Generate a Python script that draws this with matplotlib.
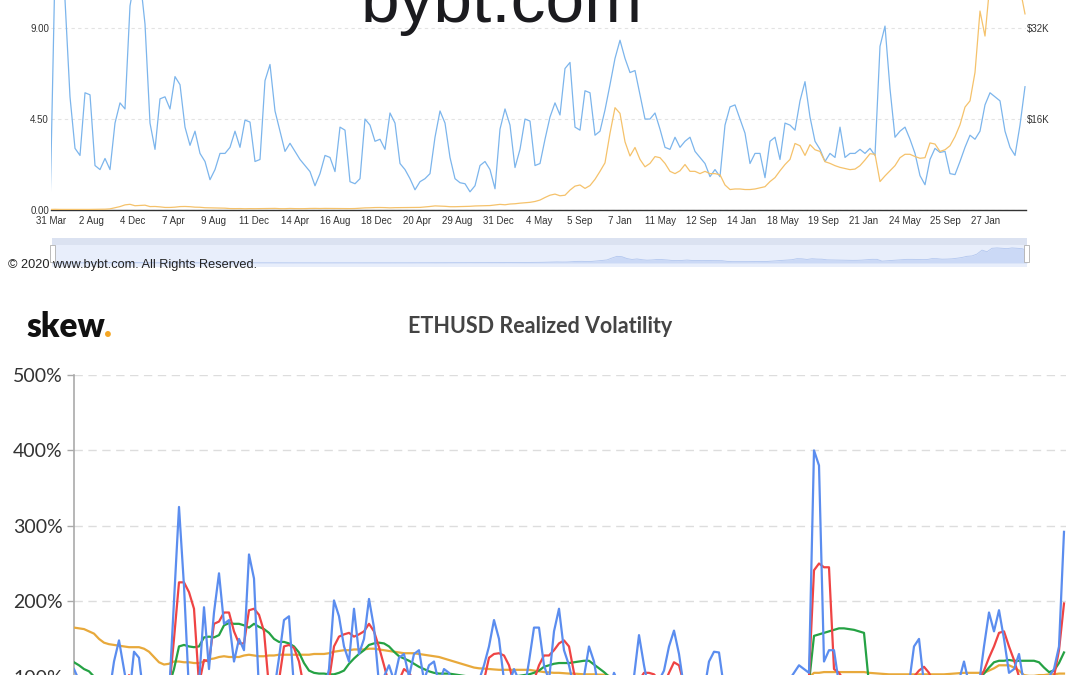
import numpy as np
import matplotlib
matplotlib.use("Agg")
import matplotlib.pyplot as plt
from matplotlib.patches import Rectangle
import matplotlib.ticker as mticker

# ------------------------------------------------------------------
# DATA : top chart (bybt.com) - ratio (blue, left axis) and BTC price ($K, right axis)
# ------------------------------------------------------------------
top_tick_labels = ['31 Mar', '2 Aug', '4 Dec', '7 Apr', '9 Aug', '11 Dec', '14 Apr', '16 Aug',
                   '18 Dec', '20 Apr', '29 Aug', '31 Dec', '4 May', '5 Sep', '7 Jan', '11 May',
                   '12 Sep', '14 Jan', '18 May', '19 Sep', '21 Jan', '24 May', '25 Sep', '27 Jan']
left_ticks = [0.0, 4.5, 9.0]
right_ticks_k = [16, 32]

ratio = [
    0.0, 12.0, 13.5, 10.4, 5.6, 3.05, 2.7, 5.8, 5.7, 2.2,
    2.0, 2.55, 2.0, 4.3, 5.3, 5.0, 10.1, 11.5, 11.5, 9.2,
    4.3, 3.0, 5.5, 5.6, 5.0, 6.6, 6.2, 4.1, 3.2, 3.9,
    2.8, 2.4, 1.5, 2.0, 2.8, 2.8, 3.1, 3.9, 3.1, 4.45,
    4.35, 2.4, 2.5, 6.4, 7.2, 4.9, 3.9, 2.9, 3.3, 2.9,
    2.5, 2.2, 1.9, 1.2, 1.8, 2.7, 2.6, 1.9, 4.1, 3.95,
    1.4, 1.3, 1.55, 4.5, 4.2, 3.4, 3.5, 3.0, 4.8, 4.3,
    2.3, 2.0, 1.55, 1.0, 1.4, 1.55, 1.8, 3.6, 4.9, 4.3,
    2.6, 1.55, 1.35, 1.3, 0.9, 1.2, 2.2, 2.4, 2.0, 1.05,
    4.0, 5.0, 4.2, 2.1, 3.0, 4.5, 4.4, 2.2, 2.3, 3.5,
    4.6, 5.3, 4.7, 7.0, 7.3, 4.1, 3.95, 5.9, 5.8, 3.7,
    3.9, 4.95, 6.2, 7.5, 8.4, 7.5, 6.8, 6.9, 5.7, 4.5,
    4.5, 4.8, 4.0, 3.1, 3.0, 3.6, 3.1, 3.4, 3.6, 2.9,
    2.6, 2.3, 1.65, 2.0, 1.65, 4.2, 5.1, 5.2, 4.5, 3.8,
    2.3, 2.8, 2.8, 1.6, 3.4, 3.6, 2.5, 4.3, 4.2, 3.95,
    5.4, 6.35, 4.6, 3.4, 3.0, 2.4, 2.8, 2.6, 4.1, 2.6,
    2.8, 2.8, 3.0, 2.8, 3.05, 2.7, 8.1, 9.1, 6.0, 3.6,
    3.9, 4.1, 3.5, 2.8, 1.7, 1.25, 2.5, 3.05, 2.85, 2.9,
    1.8, 1.75, 2.4, 3.1, 3.7, 3.5, 3.9, 5.2, 5.8, 5.6,
    5.4, 3.9, 3.1, 2.7, 4.2, 6.1,
]

btc_price_k = [
    0.09, 0.12, 0.10, 0.10, 0.10, 0.10, 0.10, 0.11, 0.10, 0.12,
    0.13, 0.14, 0.20, 0.40, 0.60, 0.90, 1.00, 0.75, 0.80, 0.85,
    0.60, 0.62, 0.55, 0.45, 0.45, 0.50, 0.60, 0.62, 0.58, 0.50,
    0.48, 0.40, 0.38, 0.37, 0.33, 0.32, 0.25, 0.24, 0.25, 0.22,
    0.24, 0.23, 0.24, 0.26, 0.25, 0.28, 0.23, 0.23, 0.27, 0.24,
    0.23, 0.24, 0.27, 0.28, 0.26, 0.28, 0.27, 0.26, 0.24, 0.23,
    0.24, 0.26, 0.32, 0.37, 0.39, 0.43, 0.44, 0.42, 0.38, 0.41,
    0.42, 0.42, 0.44, 0.45, 0.46, 0.54, 0.62, 0.72, 0.68, 0.65,
    0.58, 0.58, 0.60, 0.61, 0.65, 0.71, 0.73, 0.75, 0.78, 0.89,
    0.99, 0.92, 1.05, 1.10, 1.20, 1.27, 1.35, 1.50, 1.75, 2.20,
    2.60, 2.80, 2.50, 2.60, 3.50, 4.20, 4.40, 3.80, 4.30, 5.40,
    6.80, 8.30, 13.5, 18.0, 17.0, 12.0, 9.5, 11.0, 8.9, 7.6,
    8.2, 9.4, 9.2, 8.2, 6.8, 6.4, 6.9, 8.0, 6.8, 6.8,
    6.4, 6.8, 6.4, 6.4, 6.2, 4.4, 3.6, 3.7, 3.7, 3.6,
    3.6, 3.7, 3.9, 4.1, 5.0, 5.7, 6.9, 8.0, 8.9, 11.7,
    11.3, 9.6, 11.5, 10.6, 10.3, 8.5, 8.2, 7.8, 7.5, 7.3,
    7.1, 7.2, 7.8, 8.8, 9.9, 9.8, 5.0, 6.0, 6.9, 7.8,
    9.2, 9.8, 9.8, 9.4, 9.1, 9.2, 11.8, 11.6, 10.3, 10.6,
    11.3, 12.9, 15.0, 18.1, 19.2, 24.2, 35.0, 30.6, 40.0, 41.0,
    40.0, 39.0, 41.0, 40.0, 39.0, 34.5,
]

# ------------------------------------------------------------------
# DATA : bottom chart (skew) - ETHUSD realized volatility (%)
# ------------------------------------------------------------------
vol_ticks = [100, 200, 300, 400, 500]

vol_blue = [
    110, 95, 80, 70, 65, 60, 62, 75, 120, 148,
    110, 70, 133, 125, 70, 60, 55, 55, 60, 75,
    200, 325, 220, 80, 85, 90, 192, 110, 185, 237,
    170, 175, 120, 150, 135, 262, 230, 80, 70, 70,
    80, 125, 175, 180, 85, 70, 65, 60, 65, 70,
    80, 110, 201, 180, 140, 120, 190, 130, 150, 203,
    165, 90, 100, 115, 95, 125, 130, 100, 130, 135,
    95, 115, 120, 90, 110, 105, 80, 85, 80, 85,
    80, 95, 115, 140, 175, 150, 95, 90, 110, 95,
    80, 120, 165, 165, 115, 95, 160, 190, 135, 115,
    85, 85, 100, 140, 120, 80, 75, 80, 105, 90,
    80, 75, 100, 155, 115, 80, 75, 95, 108, 140,
    161, 130, 85, 75, 70, 70, 80, 120, 133, 132,
    85, 75, 70, 68, 65, 70, 75, 80, 75, 70,
    75, 85, 90, 95, 105, 115, 110, 105, 400, 380,
    120, 135, 135, 90, 85, 75, 70, 65, 65, 70,
    75, 80, 70, 75, 80, 85, 80, 90, 140, 150,
    90, 85, 80, 75, 80, 85, 90, 95, 120, 90,
    85, 90, 140, 185, 160, 188, 150, 105, 110, 130,
    90, 85, 90, 95, 90, 100, 110, 140, 292,
]

vol_red = [
    75, 72, 70, 68, 66, 65, 64, 66, 70, 75,
    80, 102, 85, 80, 75, 72, 70, 70, 72, 80,
    150, 225, 225, 212, 190, 90, 122, 120, 170, 173,
    185, 185, 160, 144, 144, 188, 190, 182, 160, 85,
    80, 95, 140, 142, 138, 120, 85, 80, 78, 80,
    85, 95, 140, 153, 156, 158, 153, 156, 160, 170,
    160, 139, 115, 90, 85, 95, 110, 105, 95, 90,
    85, 80, 78, 76, 75, 74, 74, 75, 76, 78,
    80, 85, 95, 125, 130, 131, 128, 115, 90, 85,
    80, 85, 95, 115, 128, 128, 135, 144, 148, 140,
    105, 85, 80, 78, 76, 75, 74, 75, 78, 80,
    82, 85, 90, 95, 105, 105, 103, 95, 90, 105,
    119, 115, 90, 85, 80, 78, 76, 75, 78, 80,
    78, 76, 75, 74, 74, 75, 76, 78, 80, 82,
    84, 86, 88, 90, 92, 95, 98, 100, 241, 250,
    245, 245, 110, 105, 95, 88, 85, 82, 80, 80,
    82, 84, 86, 88, 90, 92, 94, 96, 100, 108,
    113, 105, 90, 88, 86, 85, 86, 88, 90, 92,
    94, 96, 108, 125, 140, 158, 160, 140, 122, 100,
    90, 85, 82, 80, 82, 90, 100, 135, 197,
]

vol_green = [
    119, 115, 110, 107, 100, 95, 92, 90, 88, 87,
    86, 85, 85, 84, 84, 83, 83, 84, 85, 88,
    110, 140, 142, 140, 139, 140, 152, 153, 152, 155,
    168, 171, 170, 170, 168, 165, 170, 166, 163, 158,
    150, 146, 146, 144, 140, 132, 118, 108, 105, 104,
    104, 103, 103, 105, 108, 117, 124, 130, 135, 142,
    144, 145, 144, 140, 133, 127, 124, 121, 117, 113,
    110, 107, 105, 104, 104, 104, 103, 102, 101, 100,
    99, 98, 97, 96, 96, 97, 98, 99, 100, 101,
    102, 103, 105, 108, 113, 115, 117, 118, 118, 118,
    119, 120, 121, 121, 116, 111, 106, 100, 96, 94,
    92, 91, 90, 89, 88, 87, 87, 86, 86, 85,
    85, 85, 86, 86, 87, 87, 88, 88, 89, 89,
    89, 90, 90, 90, 91, 91, 91, 92, 92, 92,
    92, 92, 92, 92, 92, 92, 92, 92, 154, 156,
    158, 160, 162, 164, 164, 163, 162, 160, 158, 90,
    90, 89, 89, 89, 88, 88, 88, 88, 88, 88,
    88, 88, 88, 89, 89, 90, 90, 91, 92, 93,
    95, 98, 104, 112, 119, 121, 121, 122, 121, 121,
    121, 121, 121, 119, 112, 106, 108, 118, 132,
]

vol_orange = [
    165, 164, 163, 160, 157, 150, 145, 143, 142, 141,
    140, 139, 139, 139, 137, 133, 126, 119, 116, 117,
    120, 120, 119, 119, 118, 118, 120, 123, 124, 126,
    127, 126, 126, 126, 128, 129, 128, 127, 127, 128,
    128, 129, 129, 129, 129, 129, 129, 129, 130, 130,
    130, 131, 133, 134, 135, 135, 136, 136, 136, 137,
    137, 136, 135, 134, 133, 132, 131, 131, 131, 130,
    129, 128, 127, 126, 124, 122, 120, 118, 116, 114,
    112, 111, 110.6, 110, 109.5, 109, 109, 109, 109, 109,
    109, 109, 108, 107, 106, 105.5, 105, 105, 104.5, 104,
    104, 103.5, 103, 103, 103, 102.6, 102.5, 101, 99, 98,
    97, 97, 96, 96, 96, 95, 95, 95, 95, 95,
    95, 94, 95, 95, 94, 94, 95, 95, 96, 96,
    96, 96, 96, 96, 97, 97, 97, 97, 97, 97,
    97, 97, 98, 98, 98, 98, 98, 99, 105, 105,
    106, 106, 106, 106, 106, 106, 106, 106, 106, 105,
    104.5, 104, 103.5, 103, 103, 103, 103, 103, 103, 103,
    103, 103, 103, 103, 103, 103.5, 104, 104.5, 105, 105,
    105, 105, 105, 108, 111, 115, 115, 115, 112, 108,
    102, 101, 101, 102, 102, 103, 103, 104, 104,
]

# ------------------------------------------------------------------
# FIGURE
# ------------------------------------------------------------------
W, H = 1080, 675
fig = plt.figure(figsize=(W / 100, H / 100), dpi=100)
fig.patch.set_facecolor('white')


def fx(px):
    return px / W


def fy(py):
    return 1 - py / H


SANS = ['Liberation Sans', 'DejaVu Sans']
LATO = ['Lato', 'DejaVu Sans']

# ---------------- top chart ----------------
n_top = len(ratio)
xt = np.arange(n_top)
ax = fig.add_axes([fx(51), fy(210), fx(1026) - fx(51), 210 / H])
ax.set_facecolor('none')
ax.plot(xt, ratio, color='#7cb5ec', lw=0.9, zorder=3, solid_joinstyle='round')
ax.set_xlim(0.2, 195.2)
ax.set_ylim(0, 10.39)
ax.set_yticks(left_ticks)
ax.yaxis.set_major_formatter(mticker.FormatStrFormatter('%.2f'))
ax.set_xticks(0.2 + 8.13 * np.arange(len(top_tick_labels)))
ax.set_xticklabels(top_tick_labels)
ax.tick_params(axis='x', length=0, pad=4.5, labelsize=7, labelcolor='#333333')
ax.tick_params(axis='y', length=0, pad=1.5, labelsize=7, labelcolor='#333333')
for lab in ax.get_xticklabels() + ax.get_yticklabels():
    lab.set_family(SANS)
ax.yaxis.grid(True, color='#e3e3e3', lw=0.8, ls=(0, (3, 3)))
ax.set_axisbelow(True)
for s in ['top', 'left', 'right']:
    ax.spines[s].set_visible(False)
ax.spines['bottom'].set_color('#333333')
ax.spines['bottom'].set_linewidth(1.0)

ax2 = ax.twinx()
ax2.plot(xt, btc_price_k, color='#f5c26b', lw=0.9, zorder=3)
ax2.set_ylim(0, 10.39 * 32 / 9)
ax2.set_yticks(right_ticks_k)
ax2.set_yticklabels(['$%dK' % v for v in right_ticks_k])
ax2.tick_params(axis='y', length=0, pad=0.5, labelsize=7, labelcolor='#333333')
for lab in ax2.get_yticklabels():
    lab.set_family(SANS)
for s in ax2.spines.values():
    s.set_visible(False)

fig.text(fx(502), fy(22), 'bybt.com', fontsize=50, family=SANS, ha='center',
         va='baseline', color='#1b1b1f')

# navigator
nav = fig.add_axes([fx(52), fy(267), fx(1027) - fx(52), 29 / H])
nav.set_facecolor('#e8eefb')
nav.fill_between(xt, 0, btc_price_k, color='#cbd9f6', lw=0)
nav.plot(xt, btc_price_k, color='#b3c7ef', lw=0.6)
nav.set_xlim(0, n_top - 1)
nav.set_ylim(-11, 68)
nav.add_patch(Rectangle((0, 1 - 7 / 29), 1, 7 / 29, transform=nav.transAxes,
                        facecolor='#dbe2f1', edgecolor='none', zorder=1))
nav.set_xticks([])
nav.set_yticks([])
for s in nav.spines.values():
    s.set_visible(False)
for hx in (52, 1026):
    fig.patches.append(Rectangle((fx(hx - 2.5), fy(262)), 5 / W, 17 / H,
                                 transform=fig.transFigure, facecolor='white',
                                 edgecolor='#b0b0b0', lw=0.6, zorder=5))

fig.text(fx(8), fy(265), '\u00a9 2020 www.bybt.com. All Rights Reserved.', fontsize=9.2,
         family=SANS, va='center', ha='left', color='#222222', zorder=6)

# ---------------- bottom chart ----------------
n_b = len(vol_blue)
xb = np.arange(n_b)
y0_px, y500_px = 752.0, 375.0
bx = fig.add_axes([fx(74), fy(y0_px), fx(1066) - fx(74), (y0_px - y500_px) / H])
bx.set_facecolor('none')
bx.plot(xb, vol_orange, color='#e8a93b', lw=1.6, zorder=3)
bx.plot(xb, vol_green, color='#25a244', lw=1.6, zorder=4)
bx.plot(xb, vol_red, color='#ef4444', lw=1.6, zorder=5)
bx.plot(xb, vol_blue, color='#5b8def', lw=1.6, zorder=6)
bx.set_xlim(0, 198.4)
bx.set_ylim(0, 500)
bx.set_yticks(vol_ticks)
bx.set_yticklabels(['%d%%' % v for v in vol_ticks])
bx.set_xticks([])
bx.tick_params(axis='y', length=5, width=1, color='#aaaaaa', pad=3,
               labelsize=14, labelcolor='#333333')
for lab in bx.get_yticklabels():
    lab.set_family(LATO)
bx.yaxis.grid(True, color='#dddddd', lw=1.0, ls=(0, (6, 4)))
bx.set_axisbelow(True)
for s in ['top', 'right', 'bottom']:
    bx.spines[s].set_visible(False)
bx.spines['left'].set_color('#aaaaaa')
bx.spines['left'].set_linewidth(1.2)

fig.text(0.5, fy(333), 'ETHUSD Realized Volatility', ha='center', va='baseline',
         fontsize=15.5, family=LATO, weight='bold', color='#444444')
fig.text(fx(26), fy(337), 'skew', fontsize=24, family=LATO, weight='heavy',
         color='#111111', va='baseline', ha='left')
fig.text(fx(104), fy(337), '.', fontsize=24, family=LATO, weight='heavy',
         color='#f5a623', va='baseline', ha='left')

fig.savefig('out.png', dpi=100, facecolor='white')
